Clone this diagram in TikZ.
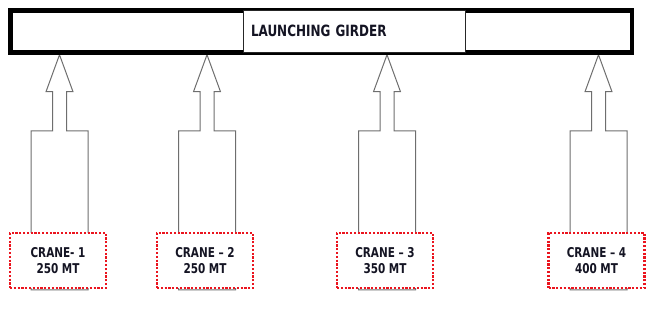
\documentclass[tikz,border=0pt]{standalone}
\usepackage{fontspec}
\setmainfont{DejaVu Sans Condensed}[FakeStretch=0.86]
\usepackage{tikz}
\usetikzlibrary{calc, backgrounds}
\definecolor{girderblack}{RGB}{0, 0, 0}
\definecolor{shellgray}{RGB}{110, 110, 110}
\definecolor{dotred}{RGB}{235, 20, 30}
\definecolor{inkblack}{RGB}{20, 20, 35}
\tikzset{
  girderbar/.style={
    rectangle, draw=girderblack, line width=4.5pt, fill=white,
    minimum width=621.5pt, minimum height=42pt, inner sep=0pt
  },
  girderlabel/.style={
    rectangle, draw=black!85, line width=0.9pt, fill=white,
    text width=206pt, align=left, inner xsep=8pt, inner ysep=0pt,
    minimum height=42pt, text=inkblack,
    font=\fontsize{15.5}{17}\selectfont\bfseries
  },
  cranebox/.style={
    rectangle, draw=dotred, fill=white, line width=2.2pt,
    dash pattern=on 2.2pt off 1.6pt,
    minimum width=96pt, minimum height=55pt, inner sep=0pt,
    align=center, text=inkblack,
    font=\fontsize{13.5}{16}\selectfont\bfseries
  },
  pics/liftarrow/.style={
    code={
      \draw[draw=shellgray, line width=1pt, fill=white, line join=miter]
        (0,0) -- (13.5,37) -- (7,37) -- (7,76) -- (28.5,76) -- (28.5,235)
        -- (-28.5,235) -- (-28.5,76) -- (-7,76) -- (-7,37) -- (-13.5,37) -- cycle;
    }
  }
}
\begin{document}
\begin{tikzpicture}[x=1pt, y=-1pt]
\useasboundingbox (0,0) rectangle (670,329);

% ── Launching Girder ──────────────────────────────────────
\node[girderbar]   (girder) at (321.25, 31.5) {};
\node[girderlabel] (glabel) at (354, 31)      {LAUNCHING GIRDER};

% ── Cranes ────────────────────────────────────────────────
\node[cranebox] (crane1) at (58, 260.5)    {CRANE- 1\\250 MT};
\node[cranebox] (crane2) at (205, 260.5)   {CRANE – 2\\250 MT};
\node[cranebox] (crane3) at (385, 260.5)   {CRANE – 3\\350 MT};
\node[cranebox] (crane4) at (596.5, 260.5) {CRANE – 4\\400 MT};

% ── Lifting Arrows: Cranes to Girder ──────────────────────
\begin{scope}[on background layer]
\pic at ($(crane1.north |- girder.south)+(1.5,0)$) {liftarrow};
\pic at ($(crane2.north |- girder.south)+(2,0)$)   {liftarrow};
\pic at ($(crane3.north |- girder.south)+(2,0)$)   {liftarrow};
\pic at ($(crane4.north |- girder.south)+(2,0)$)   {liftarrow};
\end{scope}

\end{tikzpicture}
\end{document}
